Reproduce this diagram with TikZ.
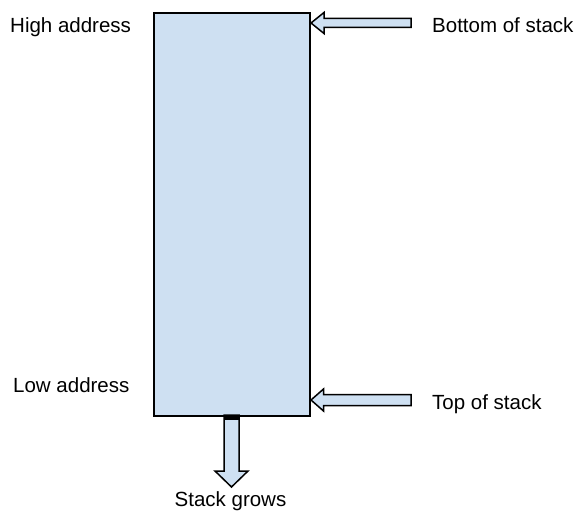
\documentclass[tikz,border=0pt]{standalone}
\usepackage{fontspec}
\setmainfont{Liberation Sans}
\definecolor{stackfill}{RGB}{206,224,242}
\tikzset{
  lbl/.style={font=\fontsize{20.5}{24}\selectfont, inner sep=0pt, anchor=base west},
  blockarrow/.style={draw=black, line width=1.5pt, fill=stackfill, line join=miter},
}
\begin{document}
\begin{tikzpicture}[x=1pt,y=-1pt]
\useasboundingbox (0,0) rectangle (579,511);

% the stack itself
\node[draw, line width=2pt, fill=stackfill, minimum width=156pt, minimum height=403pt,
      inner sep=0pt, anchor=north west] (stack) at (153,12) {};

% pointer to the bottom of the stack
\draw[blockarrow] (311,23) -- (324,12.5) -- (324,18.5) -- (411,18.5) -- (411,27.5)
  -- (324,27.5) -- (324,33.5) -- cycle;

% pointer to the top of the stack
\draw[blockarrow] (311,400) -- (323.5,389) -- (323.5,394.5) -- (411,394.5) -- (411,405.5)
  -- (323.5,405.5) -- (323.5,411) -- cycle;

% growth direction
\draw[blockarrow] (224,415) -- (239,415) -- (239,471) -- (248,471) -- (231.5,487)
  -- (215,471) -- (224,471) -- cycle;
\fill[black] (224,415) rectangle (239,420);

% labels
\node[lbl] (high) at (10,33) {High address};
\node[lbl] (bottom) at (432,32.5) {Bottom of stack};
\node[lbl] (low) at (13,392) {Low address};
\node[lbl] (top) at (432,409) {Top of stack};
\node[lbl, anchor=base] (grows) at (230.5,506) {Stack grows};
\end{tikzpicture}
\end{document}
